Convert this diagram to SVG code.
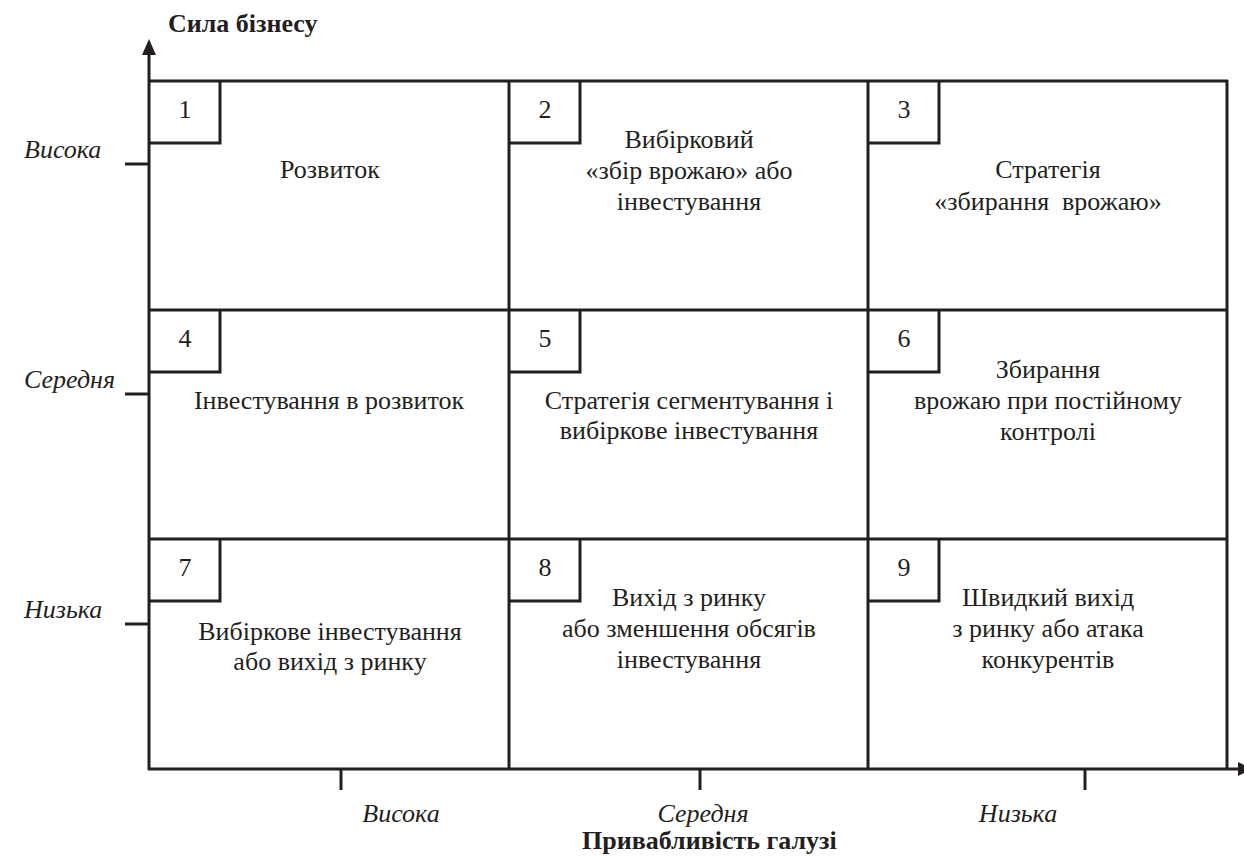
<svg xmlns="http://www.w3.org/2000/svg" width="1244" height="857" viewBox="0 0 1244 857">
<style>
.ln{stroke:#231f20;stroke-width:3;fill:none}
.t{font-family:"Liberation Serif","Times New Roman",serif;font-size:26px;fill:#231f20;text-anchor:middle}
.i{font-family:"Liberation Serif","Times New Roman",serif;font-size:26px;font-style:italic;fill:#231f20}
.b{font-family:"Liberation Serif","Times New Roman",serif;font-size:26px;font-weight:bold;fill:#231f20}
</style>
<rect width="1244" height="857" fill="#fff"/>
<g id="axes">
<line class="ln" x1="149" y1="52" x2="149" y2="770"/>
<polygon points="149,39 142,55 156,55" fill="#231f20"/>
<line class="ln" x1="148" y1="769" x2="1239" y2="769"/>
<polygon points="1252,769 1238,762 1238,776" fill="#231f20"/>
<line class="ln" x1="125" y1="164" x2="149" y2="164"/>
<line class="ln" x1="125" y1="394" x2="149" y2="394"/>
<line class="ln" x1="125" y1="624" x2="149" y2="624"/>
<line class="ln" x1="341" y1="769" x2="341" y2="790"/>
<line class="ln" x1="700" y1="769" x2="700" y2="790"/>
<line class="ln" x1="1085" y1="769" x2="1085" y2="790"/>
<text class="b" x="168" y="32">Сила бізнесу</text>
<text class="i" x="24" y="158">Висока</text>
<text class="i" x="24" y="388">Середня</text>
<text class="i" x="24" y="618">Низька</text>
<text class="i" x="401" y="822" text-anchor="middle">Висока</text>
<text class="i" x="703" y="822" text-anchor="middle">Середня</text>
<text class="i" x="1018" y="822" text-anchor="middle">Низька</text>
<text class="b" x="582" y="849">Привабливість галузі</text>
</g>
<g id="grid">
<line class="ln" x1="148" y1="81" x2="1228" y2="81"/>
<line class="ln" x1="1227" y1="80" x2="1227" y2="770"/>
<line class="ln" x1="149" y1="310" x2="1228" y2="310"/>
<line class="ln" x1="149" y1="539" x2="1228" y2="539"/>
<line class="ln" x1="509" y1="81" x2="509" y2="769"/>
<line class="ln" x1="868" y1="81" x2="868" y2="769"/>
</g>
<g id="cell1">
<polyline class="ln" points="149,143 220,143 220,81"/>
<text class="t" x="185" y="118">1</text>
<text class="t" x="330" y="178">Розвиток</text>
</g>
<g id="cell2">
<polyline class="ln" points="509,143 580,143 580,81"/>
<text class="t" x="545" y="118">2</text>
<text class="t" x="689" y="148">Вибірковий</text>
<text class="t" x="689" y="179">«збір врожаю» або</text>
<text class="t" x="689" y="210">інвестування</text>
</g>
<g id="cell3">
<polyline class="ln" points="868,143 939,143 939,81"/>
<text class="t" x="904" y="118">3</text>
<text class="t" x="1048" y="178">Стратегія</text>
<text class="t" x="1048" y="210" xml:space="preserve">«збирання  врожаю»</text>
</g>
<g id="cell4">
<polyline class="ln" points="149,372 220,372 220,310"/>
<text class="t" x="185" y="347">4</text>
<text class="t" x="329" y="409">Інвестування в розвиток</text>
</g>
<g id="cell5">
<polyline class="ln" points="509,372 580,372 580,310"/>
<text class="t" x="545" y="347">5</text>
<text class="t" x="689" y="409">Стратегія сегментування і</text>
<text class="t" x="689" y="439">вибіркове інвестування</text>
</g>
<g id="cell6">
<polyline class="ln" points="868,372 939,372 939,310"/>
<text class="t" x="904" y="347">6</text>
<text class="t" x="1048" y="378">Збирання</text>
<text class="t" x="1048" y="409">врожаю при постійному</text>
<text class="t" x="1048" y="440">контролі</text>
</g>
<g id="cell7">
<polyline class="ln" points="149,601 220,601 220,539"/>
<text class="t" x="185" y="576">7</text>
<text class="t" x="330" y="640">Вибіркове інвестування</text>
<text class="t" x="330" y="670">або вихід з ринку</text>
</g>
<g id="cell8">
<polyline class="ln" points="509,601 580,601 580,539"/>
<text class="t" x="545" y="576">8</text>
<text class="t" x="689" y="606">Вихід з ринку</text>
<text class="t" x="689" y="637">або зменшення обсягів</text>
<text class="t" x="689" y="668">інвестування</text>
</g>
<g id="cell9">
<polyline class="ln" points="868,601 939,601 939,539"/>
<text class="t" x="904" y="576">9</text>
<text class="t" x="1048" y="606">Швидкий вихід</text>
<text class="t" x="1048" y="637">з ринку або атака</text>
<text class="t" x="1048" y="668">конкурентів</text>
</g>
</svg>
